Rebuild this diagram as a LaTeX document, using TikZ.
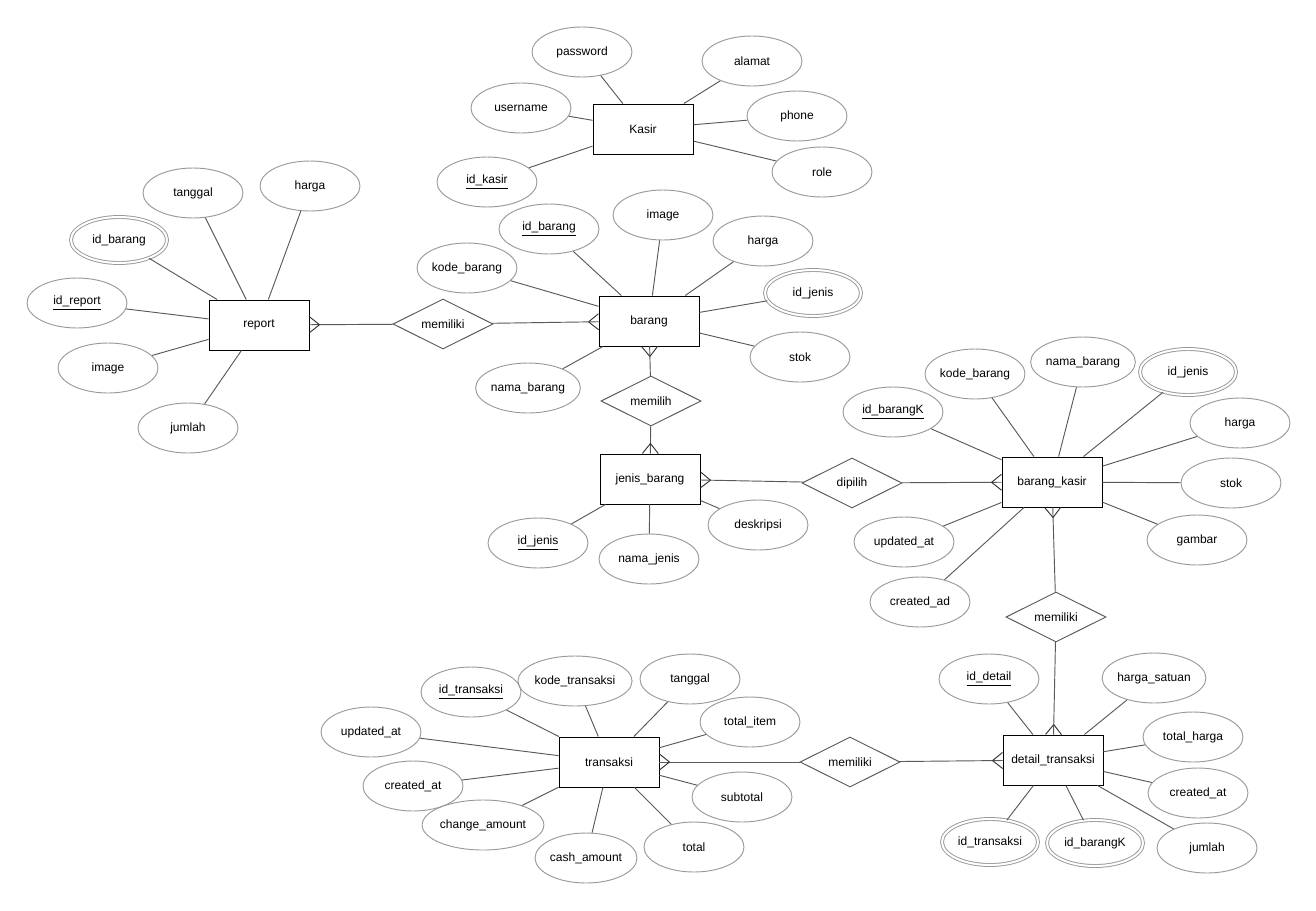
\documentclass[tikz,border=0pt]{standalone}
\usepackage{fontspec}
\setmainfont{Liberation Sans}
\usetikzlibrary{shapes.geometric,decorations.markings}

\tikzset{
  entity/.style={draw, rectangle, minimum width=75pt, minimum height=37.5pt, inner sep=0pt},
  attr/.style={draw=black!40, ellipse, minimum width=75pt, minimum height=37.5pt, inner sep=0pt},
  multi/.style={attr, double, double distance=1.5pt, minimum width=72pt, minimum height=34.5pt},
  rel/.style={draw=black!65, diamond, aspect=2, minimum width=75pt, minimum height=37.5pt, inner sep=0pt},
  link/.style={draw=black!65},
  crow/.style={postaction={decorate}, decoration={markings,
    mark=at position 1 with {\draw[black!80] (-7.5pt,0) -- (0,6pt) (-7.5pt,0) -- (0,-6pt);}}}
}

\begin{document}
\begin{tikzpicture}[x=0.75pt, y=-0.75pt, line width=0.7pt, font=\fontsize{9}{11}\selectfont]
\useasboundingbox (0,0) rectangle (1316,910);

% entitas
\node[entity] (Kasir)  at (643, 129) {Kasir};
\node[entity] (Report) at (259, 325) {report};
\node[entity] (Barang) at (649, 321) {barang};
\node[entity] (Jenis)  at (650, 479) {jenis\_barang};
\node[entity] (BK)     at (1052, 482) {barang\_kasir};
\node[entity] (Trans)  at (609, 762) {transaksi};
\node[entity] (Detail) at (1053, 760) {detail\_transaksi};

% relasi
\node[rel] (R1) at (443, 324)  {memiliki};
\node[rel] (R2) at (651, 401)  {memilih};
\node[rel] (R3) at (852, 483)  {dipilih};
\node[rel] (R4) at (1056, 617) {memiliki};
\node[rel] (R5) at (850, 762)  {memiliki};

% atribut Kasir
\node[attr] (Kpassword) at (582, 52)  {password};
\node[attr] (Kalamat)   at (752, 61)  {alamat};
\node[attr] (Kusername) at (521, 108) {username};
\node[attr] (Kphone)    at (797, 116) {phone};
\node[attr] (Kid)       at (487, 182) {\underline{id\_kasir}};
\node[attr] (Krole)     at (822, 172) {role};

% atribut report
\node[attr]  (Rtanggal) at (193, 193) {tanggal};
\node[attr]  (Rharga)   at (310, 186) {harga};
\node[multi] (Rbarang)  at (119, 240) {id\_barang};
\node[attr]  (Rid)      at (77, 303)  {\underline{id\_report}};
\node[attr]  (Rimage)   at (108, 368) {image};
\node[attr]  (Rjumlah)  at (188, 428) {jumlah};

% atribut barang
\node[attr]  (Bid)    at (549, 229) {\underline{id\_barang}};
\node[attr]  (Bimage) at (663, 215) {image};
\node[attr]  (Bharga) at (763, 241) {harga};
\node[multi] (Bjenis) at (813, 293) {id\_jenis};
\node[attr]  (Bstok)  at (800, 357) {stok};
\node[attr]  (Bkode)  at (467, 268) {kode\_barang};
\node[attr]  (Bnama)  at (528, 388) {nama\_barang};

% atribut jenis_barang
\node[attr] (Jid)   at (538, 543) {\underline{id\_jenis}};
\node[attr] (Jnama) at (649, 559) {nama\_jenis};
\node[attr] (Jdesk) at (758, 525) {deskripsi};

% atribut barang_kasir
\node[attr]  (BKid)      at (893, 412)  {\underline{id\_barangK}};
\node[attr]  (BKkode)    at (975, 374)  {kode\_barang};
\node[attr]  (BKnama)    at (1083, 362) {nama\_barang};
\node[multi] (BKjenis)   at (1188, 372) {id\_jenis};
\node[attr]  (BKharga)   at (1240, 423) {harga};
\node[attr]  (BKstok)    at (1231, 483) {stok};
\node[attr]  (BKgambar)  at (1197, 540) {gambar};
\node[attr]  (BKupdated) at (904, 542)  {updated\_at};
\node[attr]  (BKcreated) at (920, 602)  {created\_ad};

% atribut detail_transaksi
\node[attr]  (Did)      at (989, 679)  {\underline{id\_detail}};
\node[attr]  (Dharga)   at (1154, 678) {harga\_satuan};
\node[attr]  (Dtotal)   at (1193, 737) {total\_harga};
\node[attr]  (Dcreated) at (1198, 793) {created\_at};
\node[attr]  (Djumlah)  at (1207, 848) {jumlah};
\node[multi] (Dtrans)   at (990, 842)  {id\_transaksi};
\node[multi] (Dbarang)  at (1095, 843) {id\_barangK};

% atribut transaksi
\node[attr] (Tid)      at (471, 692) {\underline{id\_transaksi}};
\node[attr] (Tkode)    at (575, 681) {kode\_transaksi};
\node[attr] (Ttanggal) at (690, 679) {tanggal};
\node[attr] (Titem)    at (750, 722) {total\_item};
\node[attr] (Tsub)     at (742, 797) {subtotal};
\node[attr] (Ttotal)   at (694, 847) {total};
\node[attr] (Tcash)    at (586, 858) {cash\_amount};
\node[attr] (Tchange)  at (483, 825) {change\_amount};
\node[attr] (Tcreated) at (413, 786) {created\_at};
\node[attr] (Tupdated) at (371, 732) {updated\_at};

% garis atribut
\path[link]
(Kasir) edge (Kpassword) (Kasir) edge (Kalamat) (Kasir) edge (Kusername)
(Kasir) edge (Kphone) (Kasir) edge (Kid) (Kasir) edge (Krole)
(Report) edge (Rtanggal) (Report) edge (Rharga) (Report) edge (Rbarang)
(Report) edge (Rid) (Report) edge (Rimage) (Report) edge (Rjumlah)
(Barang) edge (Bid) (Barang) edge (Bimage) (Barang) edge (Bharga)
(Barang) edge (Bjenis) (Barang) edge (Bstok) (Barang) edge (Bkode) (Barang) edge (Bnama)
(Jenis) edge (Jid) (Jenis) edge (Jnama) (Jenis) edge (Jdesk)
(BK) edge (BKid) (BK) edge (BKkode) (BK) edge (BKnama) (BK) edge (BKjenis)
(BK) edge (BKharga) (BK) edge (BKstok) (BK) edge (BKgambar)
(BK) edge (BKupdated) (BK) edge (BKcreated)
(Detail) edge (Did) (Detail) edge (Dharga) (Detail) edge (Dtotal) (Detail) edge (Dcreated)
(Detail) edge (Djumlah) (Detail) edge (Dtrans) (Detail) edge (Dbarang)
(Trans) edge (Tid) (Trans) edge (Tkode) (Trans) edge (Ttanggal) (Trans) edge (Titem)
(Trans) edge (Tsub) (Trans) edge (Ttotal) (Trans) edge (Tcash) (Trans) edge (Tchange)
(Trans) edge (Tcreated) (Trans) edge (Tupdated);

% garis relasi (banyak)
\path[link]
(R1) edge[crow] (Report)
(R1) edge[crow] (Barang)
(R2) edge[crow] (Barang)
(R2) edge[crow] (Jenis)
(R3) edge[crow] (Jenis)
(R3) edge[crow] (BK)
(R4) edge[crow] (BK)
(R4) edge[crow] (Detail)
(R5) edge[crow] (Trans)
(R5) edge[crow] (Detail);
\end{tikzpicture}
\end{document}
